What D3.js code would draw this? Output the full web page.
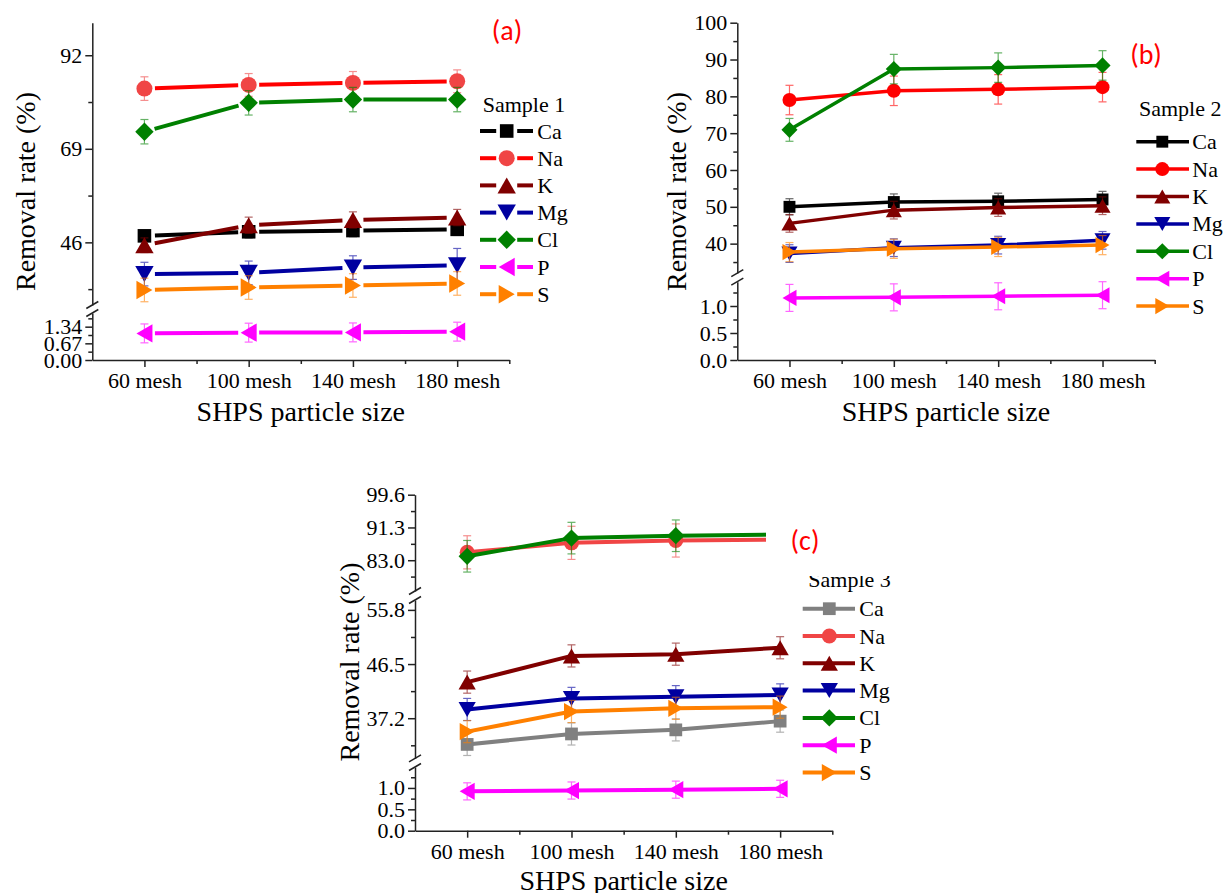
<!DOCTYPE html>
<html lang="en">
<head>
<meta charset="UTF-8" />
<title>Removal rate vs SHPS particle size</title>
<style>
  body { margin: 0; background: #fff; }
</style>
</head>
<body>
<div id="chart"></div>
<script src="https://cdn.jsdelivr.net/npm/d3@7/dist/d3.min.js"></script>
<script>
const categories = ["60 mesh", "100 mesh", "140 mesh", "180 mesh"];
const elements = ["Ca", "Na", "K", "Mg", "Cl", "P", "S"];

// rows follow `elements`, columns follow `categories`
const sample1Values = [
  [47.6, 48.6, 48.9, 49.2],
  [83.8, 84.7, 85.2, 85.6],
  [45.3, 50.2, 51.5, 52.1],
  [38.2, 38.5, 39.8, 40.4],
  [73.2, 80.3, 81.1, 81.1],
  [1.07, 1.10, 1.11, 1.14],
  [34.3, 34.9, 35.4, 35.9]
];
const sample1Errors = [
  [1.2, 1.5, 1.5, 1.5],
  [2.9, 2.8, 2.8, 2.8],
  [1.8, 2.0, 2.0, 2.0],
  [2.9, 2.9, 2.9, 4.1],
  [3.0, 3.0, 3.0, 3.0],
  [0.38, 0.38, 0.38, 0.38],
  [2.9, 2.9, 2.9, 2.9]
];

const sample2Values = [
  [50.0, 51.3, 51.5, 52.0],
  [79.0, 81.5, 81.9, 82.5],
  [45.5, 49.1, 49.8, 50.3],
  [37.3, 38.9, 39.6, 40.9],
  [70.9, 87.4, 87.8, 88.4],
  [1.15, 1.16, 1.18, 1.20],
  [37.7, 38.6, 39.1, 39.6]
];
const sample2Errors = [
  [2.2, 2.2, 2.2, 2.2],
  [4.0, 4.0, 4.0, 4.0],
  [2.4, 2.4, 2.4, 2.4],
  [2.4, 2.4, 2.4, 2.4],
  [3.1, 4.0, 4.0, 4.0],
  [0.25, 0.25, 0.25, 0.25],
  [2.6, 2.6, 2.6, 2.6]
];

const sample3Values = [
  [32.7, 34.5, 35.2, 36.7],
  [85.0, 87.4, 88.0, 88.2],
  [43.4, 47.9, 48.2, 49.3],
  [38.7, 40.6, 40.9, 41.2],
  [84.0, 88.6, 89.2, 89.5],
  [0.92, 0.94, 0.96, 0.98],
  [34.9, 38.35, 38.9, 39.1]
];
const sample3Errors = [
  [1.9, 1.9, 1.9, 1.9],
  [4.2, 4.2, 4.2, 4.2],
  [1.9, 1.9, 1.9, 1.9],
  [1.9, 1.9, 1.9, 1.9],
  [4.0, 4.0, 4.0, 4.0],
  [0.2, 0.2, 0.2, 0.2],
  [1.9, 1.9, 1.9, 1.9]
];

// tick labels of each axis segment
const ticksA_low = [0, 0.67, 1.34];
const ticksA_high = [46, 69, 92];
const ticksB_low = [0, 0.5, 1.0];
const ticksB_high = [40, 50, 60, 70, 80, 90, 100];
const ticksC_low = [0, 0.5, 1.0];
const ticksC_mid = [37.2, 46.5, 55.8];
const ticksC_high = [83.0, 91.3, 99.6];

const SERIF = "Liberation Serif";
const shapes = ["square", "circle", "up", "down", "diamond", "left", "right"];
const baseColors = ["#000000", "#ff0000", "#800000", "#0000a0", "#008000", "#ff00ff", "#ff8000"];

const panels = [
  {
    values: sample1Values, errors: sample1Errors,
    x0: 92.3, x1: 509.3, axisY: 360,
    segments: [
      { domain: [0, 1.89], range: [360, 313], ticks: ticksA_low, fmt: ".2f" },
      { domain: [30.6, 100], range: [305, 22.7], ticks: ticksA_high, fmt: "d" }
    ],
    yTitle: [25, 191.5], xTitleY: 421, size: 8, lw: 4, gap: true,
    lineColors: baseColors,
    markColors: ["#000000", "#f04545", "#800000", "#0000a0", "#008000", "#ff00ff", "#ff8000"],
    tag: { text: "(a)", x: 507, y: 40 },
    legend: { title: "Sample 1", x: 482.7, ty: 104, y0: 131, dy: 27.2, lx1: 480, lx2: 533, mx: 506.7, tx: 537.3 }
  },
  {
    values: sample2Values, errors: sample2Errors,
    x0: 737.3, x1: 1154.7, axisY: 360,
    segments: [
      { domain: [0, 1.45], range: [360, 281.7], ticks: ticksB_low, fmt: ".1f" },
      { domain: [32, 100], range: [273.1, 22.7], ticks: ticksB_high, fmt: "d" }
    ],
    yTitle: [676.7, 191.5], xTitleY: 421, size: 7, lw: 3.5, gap: false,
    lineColors: baseColors, markColors: baseColors,
    tag: { text: "(b)", x: 1146, y: 64 },
    legend: { title: "Sample 2", x: 1139, ty: 108.3, y0: 141.7, dy: 27.4, lx1: 1136.3, lx2: 1189, mx: 1162.3, tx: 1192.3 }
  },
  {
    values: sample3Values, errors: sample3Errors,
    x0: 415, x1: 832.3, axisY: 830.7,
    segments: [
      { domain: [0, 1.49], range: [830.7, 767], ticks: ticksC_low, fmt: ".1f" },
      { domain: [30.3, 57.5], range: [758.4, 600], ticks: ticksC_mid, fmt: ".1f" },
      { domain: [75.2, 99.6], range: [591, 494.7], ticks: ticksC_high, fmt: ".1f" }
    ],
    yTitle: [349, 662], xTitleY: 889.5, size: 7.5, lw: 4, gap: false,
    lineColors: ["#808080", "#f04545", "#800000", "#0000a0", "#008000", "#ff00ff", "#ff8000"],
    markColors: ["#808080", "#f04545", "#800000", "#0000a0", "#008000", "#ff00ff", "#ff8000"],
    tag: { text: "(c)", x: 805, y: 550, box: [766, 508, 130, 68] },
    legend: { title: "Sample 3", x: 808.3, ty: 579.7, y0: 608.7, dy: 27.3, lx1: 802.7, lx2: 855, mx: 829.3, tx: 859.3 }
  }
];

function markerPath(shape, s) {
  const w = s * 1.15;
  switch (shape) {
    case "square": { const h = s * 0.85; return `M${-h},${-h}H${h}V${h}H${-h}Z`; }
    case "circle": return `M${s},0A${s},${s} 0 1,1 ${-s},0A${s},${s} 0 1,1 ${s},0Z`;
    case "up": return `M0,${-s}L${w},${s}L${-w},${s}Z`;
    case "down": return `M0,${s}L${w},${-s}L${-w},${-s}Z`;
    case "left": return `M${-s},0L${s},${-w}L${s},${w}Z`;
    case "right": return `M${s},0L${-s},${-w}L${-s},${w}Z`;
    case "diamond": { const d = s * 1.15; return `M0,${-d}L${d},0L0,${d}L${-d},0Z`; }
  }
}

const svg = d3.select("#chart").append("svg")
  .attr("width", 1224).attr("height", 893)
  .attr("viewBox", [0, 0, 1224, 893])
  .attr("font-family", SERIF);

function styleAxis(sel) {
  sel.attr("font-family", SERIF).attr("font-size", 22);
  sel.selectAll("path, line").attr("stroke", "#222").attr("stroke-width", 1.5);
  sel.selectAll("text").attr("fill", "#000").attr("font-family", SERIF);
}

function minorTicks(ticks, domain) {
  const step = ticks.length > 1 ? ticks[1] - ticks[0] : 1;
  const out = [];
  for (let v = ticks[0] - step / 2; v <= domain[1] + 1e-9; v += step) {
    if (v >= domain[0]) out.push(v);
  }
  return out;
}

function drawPanel(p) {
  const g = svg.append("g");
  const x = d3.scaleLinear().domain([0.5, 4.5]).range([p.x0, p.x1]);
  const segs = p.segments.map(s => ({ ...s, scale: d3.scaleLinear().domain(s.domain).range(s.range) }));
  const segFor = v => segs.find(s => v >= s.domain[0] && v <= s.domain[1]) || segs[segs.length - 1];

  // x axis
  g.append("g").attr("transform", `translate(0,${p.axisY})`)
    .call(d3.axisBottom(x).tickValues([1, 2, 3, 4]).tickFormat(i => categories[i - 1])
      .tickSize(7).tickSizeOuter(0).tickPadding(5.5))
    .call(styleAxis);
  g.append("g").attr("transform", `translate(0,${p.axisY})`)
    .call(d3.axisBottom(x).tickValues([1.5, 2.5, 3.5, 4.5]).tickFormat("").tickSize(4).tickSizeOuter(0))
    .call(styleAxis)
    .call(a => a.select(".domain").remove());

  // y axis, one piece per segment
  segs.forEach(s => {
    g.append("g").attr("transform", `translate(${p.x0},0)`)
      .call(d3.axisLeft(s.scale).tickValues(s.ticks).tickFormat(d3.format(s.fmt))
        .tickSize(7).tickSizeOuter(0).tickPadding(3))
      .call(styleAxis);
    g.append("g").attr("transform", `translate(${p.x0},0)`)
      .call(d3.axisLeft(s.scale).tickValues(minorTicks(s.ticks, s.domain)).tickFormat("").tickSize(4).tickSizeOuter(0))
      .call(styleAxis)
      .call(a => a.select(".domain").remove());
  });

  // break marks
  for (let i = 0; i < segs.length - 1; i++) {
    [segs[i].range[1], segs[i + 1].range[0]].forEach(yb => {
      g.append("line")
        .attr("x1", p.x0 - 6).attr("y1", yb + 3.5)
        .attr("x2", p.x0 + 6).attr("y2", yb - 3.5)
        .attr("stroke", "#222").attr("stroke-width", 1.5);
    });
  }

  // series
  elements.forEach((el, k) => {
    const vals = p.values[k], errs = p.errors[k];
    const s = segFor(vals[0]);
    const pts = vals.map((v, i) => [x(i + 1), s.scale(v)]);
    const lc = p.lineColors[k], mc = p.markColors[k];
    const sg = g.append("g");

    if (p.gap) {
      const cut = p.size + 2.5;
      d3.pairs(pts).forEach(([a, b]) => {
        const dx = b[0] - a[0], dy = b[1] - a[1], len = Math.hypot(dx, dy);
        const ux = dx / len, uy = dy / len;
        sg.append("line")
          .attr("x1", a[0] + ux * cut).attr("y1", a[1] + uy * cut)
          .attr("x2", b[0] - ux * cut).attr("y2", b[1] - uy * cut)
          .attr("stroke", lc).attr("stroke-width", p.lw);
      });
    } else {
      sg.append("path").attr("d", d3.line()(pts))
        .attr("fill", "none").attr("stroke", lc).attr("stroke-width", p.lw)
        .attr("stroke-linejoin", "round");
    }

    sg.selectAll(".mk").data(pts).join("path")
      .attr("transform", d => `translate(${d[0]},${d[1]})`)
      .attr("d", markerPath(shapes[k], p.size))
      .attr("fill", mc);

    vals.forEach((v, i) => {
      const cx = x(i + 1), yt = s.scale(v + errs[i]), yb = s.scale(v - errs[i]);
      const eb = sg.append("g").attr("stroke", mc).attr("stroke-width", 1.2).attr("opacity", 0.6);
      eb.append("line").attr("x1", cx).attr("x2", cx).attr("y1", yt).attr("y2", yb);
      eb.append("line").attr("x1", cx - 4).attr("x2", cx + 4).attr("y1", yt).attr("y2", yt);
      eb.append("line").attr("x1", cx - 4).attr("x2", cx + 4).attr("y1", yb).attr("y2", yb);
    });
  });

  // titles
  g.append("text")
    .attr("transform", `translate(${p.yTitle[0]},${p.yTitle[1]}) rotate(-90)`)
    .attr("text-anchor", "middle").attr("dominant-baseline", "central")
    .attr("font-family", SERIF).attr("font-size", 28).text("Removal rate (%)");
  g.append("text")
    .attr("x", (p.x0 + p.x1) / 2).attr("y", p.xTitleY)
    .attr("text-anchor", "middle").attr("font-family", SERIF).attr("font-size", 28)
    .text("SHPS particle size");

  // legend
  const L = p.legend;
  const lg = g.append("g").attr("font-family", SERIF).attr("font-size", 22);
  lg.append("text").attr("x", L.x).attr("y", L.ty + 7.5).text(L.title);
  elements.forEach((el, k) => {
    const y = L.y0 + k * L.dy;
    if (p.gap) {
      const cut = p.size + 2.5;
      lg.append("line").attr("x1", L.lx1).attr("x2", L.mx - cut).attr("y1", y).attr("y2", y)
        .attr("stroke", p.lineColors[k]).attr("stroke-width", p.lw);
      lg.append("line").attr("x1", L.mx + cut).attr("x2", L.lx2).attr("y1", y).attr("y2", y)
        .attr("stroke", p.lineColors[k]).attr("stroke-width", p.lw);
    } else {
      lg.append("line").attr("x1", L.lx1).attr("x2", L.lx2).attr("y1", y).attr("y2", y)
        .attr("stroke", p.lineColors[k]).attr("stroke-width", p.lw);
    }
    lg.append("path").attr("transform", `translate(${L.mx},${y})`)
      .attr("d", markerPath(shapes[k], p.size)).attr("fill", p.markColors[k]);
    lg.append("text").attr("x", L.tx).attr("y", y + 7.5).text(el);
  });

  // panel tag, (c) sits on a white box that hides the line ends behind it
  if (p.tag.box) {
    const b = p.tag.box;
    g.append("rect").attr("x", b[0]).attr("y", b[1]).attr("width", b[2]).attr("height", b[3]).attr("fill", "#fff");
  }
  g.append("text").attr("x", p.tag.x).attr("y", p.tag.y)
    .attr("text-anchor", "middle").attr("font-size", 28)
    .attr("font-family", "Carlito").attr("fill", "#ff0000")
    .text(p.tag.text);
}

panels.forEach(drawPanel);
</script>
</body>
</html>
